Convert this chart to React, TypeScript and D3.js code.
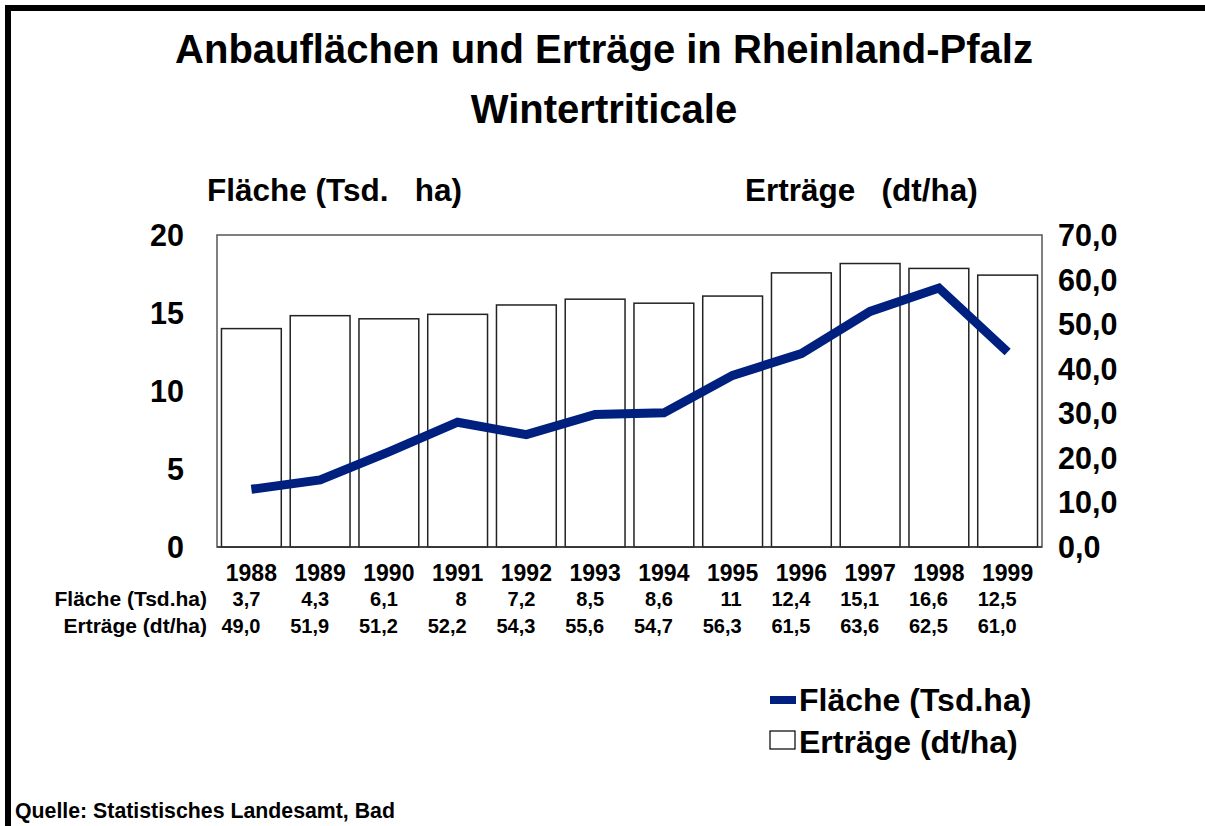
import * as d3 from "d3";

const years = ["1988", "1989", "1990", "1991", "1992", "1993", "1994", "1995", "1996", "1997", "1998", "1999"];
const flaeche = [3.7, 4.3, 6.1, 8, 7.2, 8.5, 8.6, 11, 12.4, 15.1, 16.6, 12.5];
const ertraege = [49.0, 51.9, 51.2, 52.2, 54.3, 55.6, 54.7, 56.3, 61.5, 63.6, 62.5, 61.0];
const flaecheLabels = ["3,7", "4,3", "6,1", "8", "7,2", "8,5", "8,6", "11", "12,4", "15,1", "16,6", "12,5"];
const ertraegeLabels = ["49,0", "51,9", "51,2", "52,2", "54,3", "55,6", "54,7", "56,3", "61,5", "63,6", "62,5", "61,0"];
const leftTicks = [0, 5, 10, 15, 20];
const rightTicks = [0, 10, 20, 30, 40, 50, 60, 70];

const W = 1205;
const H = 826;
const PLOT = { left: 217, right: 1042, top: 235, bottom: 547 };
const LINE_COLOR = "#002080";
const FONT = "'Liberation Sans', Arial, sans-serif";

const App = () => {
  const x = d3
    .scaleBand<string>()
    .domain(years)
    .range([PLOT.left, PLOT.right])
    .paddingInner(0.13)
    .paddingOuter(0.065);
  const yLeft = d3.scaleLinear().domain([0, 20]).range([PLOT.bottom, PLOT.top]);
  const yRight = d3.scaleLinear().domain([0, 70]).range([PLOT.bottom, PLOT.top]);
  const cx = (y: string) => (x(y) as number) + x.bandwidth() / 2;

  const line = d3
    .line<number>()
    .x((_, i) => cx(years[i]))
    .y((d) => yLeft(d));

  return (
    <svg
      width={W}
      height={H}
      style={{ position: "absolute", left: 0, top: 0, background: "#fff" }}
      fontFamily={FONT}
      fontWeight="bold"
    >
      {/* outer frame (left + top) */}
      <line x1={8} y1={5} x2={8} y2={H} stroke="#000" strokeWidth={6} />
      <line x1={5} y1={8} x2={W} y2={8} stroke="#000" strokeWidth={6} />

      <text x={604} y={63} textAnchor="middle" fontSize={40}>
        Anbauflächen und Erträge in Rheinland-Pfalz
      </text>
      <text x={604} y={123} textAnchor="middle" fontSize={40}>
        Wintertriticale
      </text>

      <text x={207} y={201} fontSize={31.5} style={{ whiteSpace: "pre" }}>
        {"Fläche (Tsd.   ha)"}
      </text>
      <text x={745} y={201} fontSize={31.5} style={{ whiteSpace: "pre" }}>
        {"Erträge   (dt/ha)"}
      </text>

      {/* plot frame */}
      <rect
        x={PLOT.left}
        y={PLOT.top}
        width={PLOT.right - PLOT.left}
        height={PLOT.bottom - PLOT.top}
        fill="none"
        stroke="#555"
        strokeWidth={1.5}
      />

      {leftTicks.map((t) => (
        <text key={t} x={184} y={yLeft(t)} dy="0.36em" textAnchor="end" fontSize={30.5}>
          {t}
        </text>
      ))}
      {rightTicks.map((t) => (
        <text key={t} x={1058} y={yRight(t)} dy="0.36em" fontSize={30.5}>
          {t.toFixed(1).replace(".", ",")}
        </text>
      ))}

      {ertraege.map((v, i) => (
        <rect
          key={years[i]}
          x={x(years[i])}
          y={yRight(v)}
          width={x.bandwidth()}
          height={PLOT.bottom - yRight(v)}
          fill="#fff"
          stroke="#222"
          strokeWidth={1.5}
        />
      ))}

      <line x1={PLOT.left} y1={PLOT.bottom} x2={PLOT.right} y2={PLOT.bottom} stroke="#333" strokeWidth={1.5} />

      <path
        d={line(flaeche) as string}
        fill="none"
        stroke={LINE_COLOR}
        strokeWidth={9}
        strokeLinejoin="miter"
        strokeLinecap="butt"
      />

      {/* data table */}
      {years.map((y) => (
        <text key={y} x={cx(y)} y={581} textAnchor="middle" fontSize={23}>
          {y}
        </text>
      ))}
      <text x={207} y={606} textAnchor="end" fontSize={21}>
        Fläche (Tsd.ha)
      </text>
      <text x={207} y={633} textAnchor="end" fontSize={21}>
        Erträge (dt/ha)
      </text>
      {flaecheLabels.map((l, i) => (
        <text key={i} x={cx(years[i]) + 9} y={606} textAnchor="end" fontSize={20}>
          {l}
        </text>
      ))}
      {ertraegeLabels.map((l, i) => (
        <text key={i} x={cx(years[i]) + 9} y={633} textAnchor="end" fontSize={20}>
          {l}
        </text>
      ))}

      {/* legend */}
      <line x1={770} y1={700} x2={796} y2={700} stroke={LINE_COLOR} strokeWidth={8} />
      <text x={799} y={711} fontSize={32}>
        Fläche (Tsd.ha)
      </text>
      <rect x={770} y={731} width={25} height={18} fill="#fff" stroke="#000" strokeWidth={1.2} />
      <text x={799} y={753} fontSize={32}>
        Erträge (dt/ha)
      </text>

      <text x={15} y={818} fontSize={21.3}>
        Quelle: Statistisches Landesamt, Bad
      </text>
    </svg>
  );
};

export default App;
